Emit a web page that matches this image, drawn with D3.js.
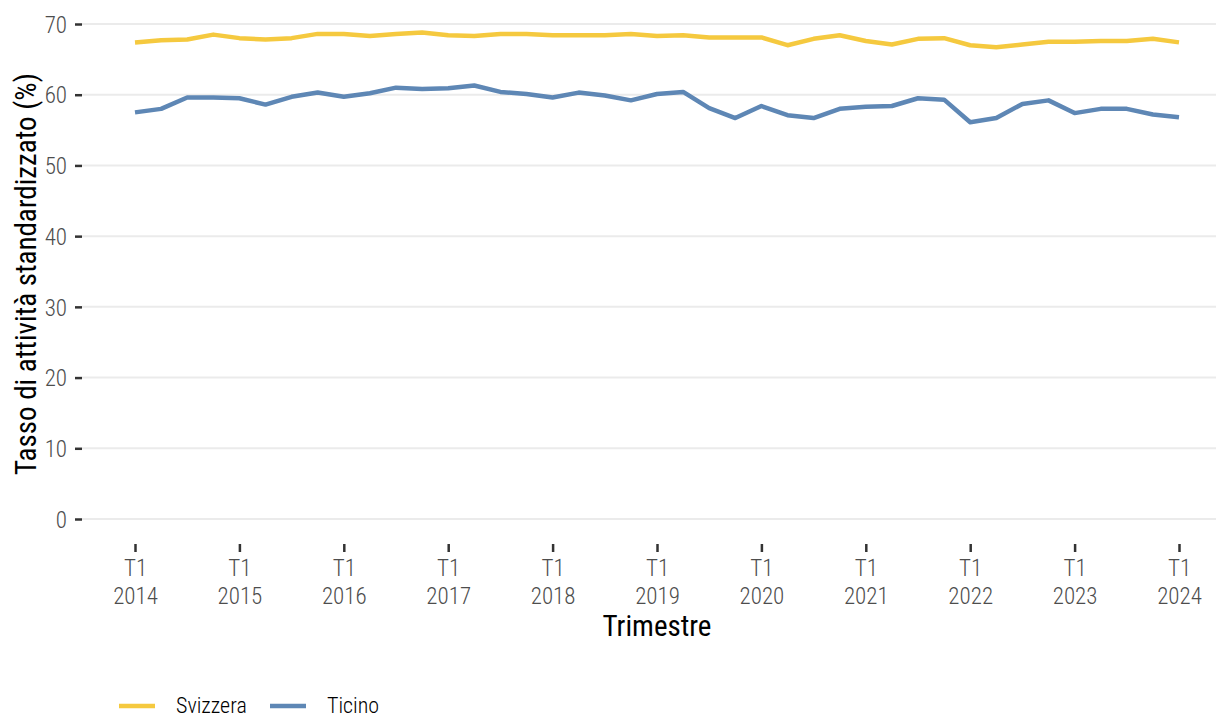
<!DOCTYPE html>
<html>
<head>
<meta charset="utf-8">
<script src="https://cdn.jsdelivr.net/npm/d3@7"></script>
<style>
  body { margin: 0; background: #fff; }
  svg text { font-family: "Roboto", sans-serif; font-stretch: 75%; font-weight: 300; }
  svg text.title { font-weight: 400; }
</style>
</head>
<body>
<div id="container"></div>
<script>
// Quarters from T1 2014 to T1 2024
const years = d3.range(2014, 2025);
const quarters = [];
years.forEach(function(y) {
    for (let q = 1; q <= 4; q++) {
        if (y === 2024 && q > 1) break;
        quarters.push({ year: y, q: q });
    }
});

// Tasso di attività standardizzato (%)
const svizzera = [
    67.4, 67.7, 67.8, 68.5,
    68.0, 67.8, 68.0, 68.6,
    68.6, 68.3, 68.6, 68.8,
    68.4, 68.3, 68.6, 68.6,
    68.4, 68.4, 68.4, 68.6,
    68.3, 68.4, 68.1, 68.1,
    68.1, 67.0, 67.9, 68.4,
    67.6, 67.1, 67.9, 68.0,
    67.0, 66.7, 67.1, 67.5,
    67.5, 67.6, 67.6, 67.9,
    67.4
];
const ticino = [
    57.5, 58.0, 59.6, 59.6,
    59.5, 58.6, 59.7, 60.3,
    59.7, 60.2, 61.0, 60.8,
    60.9, 61.3, 60.4, 60.1,
    59.6, 60.3, 59.9, 59.2,
    60.1, 60.4, 58.1, 56.7,
    58.4, 57.1, 56.7, 58.0,
    58.3, 58.4, 59.5, 59.3,
    56.1, 56.7, 58.7, 59.2,
    57.4, 58.0, 58.0, 57.2,
    56.8
];
const yTicks = [0, 10, 20, 30, 40, 50, 60, 70];

const series = [
    { name: "Svizzera", values: svizzera, color: "#f5c93f" },
    { name: "Ticino", values: ticino, color: "#5e87b5" }
];

const width = 1216, height = 718;
const svg = d3.select("#container").append("svg")
    .attr("width", width)
    .attr("height", height);

// Scales
const x = d3.scaleLinear().domain([0, quarters.length - 1]).range([135, 1179]);
const y = d3.scaleLinear().domain([0, 70]).range([519, 24]);

// Grid lines
svg.append("g")
    .selectAll("line")
    .data(yTicks)
    .enter()
    .append("line")
    .attr("x1", 82)
    .attr("x2", width)
    .attr("y1", d => y(d))
    .attr("y2", d => y(d))
    .attr("stroke", "#ebebeb")
    .attr("stroke-width", 2);

// Y axis
const yAxis = svg.append("g")
    .attr("transform", "translate(82,0)")
    .call(d3.axisLeft(y).tickValues(yTicks).tickSize(7).tickPadding(8));
yAxis.select(".domain").remove();
yAxis.selectAll(".tick line").attr("stroke", "#333").attr("stroke-width", 2.5);
yAxis.selectAll(".tick text")
    .attr("fill", "#4d4d4d")
    .attr("font-size", "23px")
    .attr("dy", "0.36em");

// X axis (yearly ticks at T1)
const xTickIdx = quarters.map((d, i) => i).filter(i => quarters[i].q === 1);
const xAxis = svg.append("g")
    .attr("transform", "translate(0,544)")
    .call(d3.axisBottom(x).tickValues(xTickIdx).tickSize(8).tickFormat(""));
xAxis.select(".domain").remove();
xAxis.selectAll(".tick line").attr("stroke", "#333").attr("stroke-width", 2.5);
xAxis.selectAll(".tick").each(function(i) {
    const t = d3.select(this).append("text")
        .attr("fill", "#4d4d4d")
        .attr("font-size", "23px")
        .attr("text-anchor", "middle");
    t.append("tspan").attr("x", 0).attr("y", 32).text("T" + quarters[i].q);
    t.append("tspan").attr("x", 0).attr("y", 60).text(quarters[i].year);
});

// Axis titles
svg.append("text")
    .attr("class", "title")
    .attr("transform", "translate(36,274) rotate(-90)")
    .attr("text-anchor", "middle")
    .attr("font-size", "29px")
    .attr("fill", "#000")
    .text("Tasso di attività standardizzato (%)");

svg.append("text")
    .attr("class", "title")
    .attr("x", 657)
    .attr("y", 636)
    .attr("text-anchor", "middle")
    .attr("font-size", "29px")
    .attr("fill", "#000")
    .text("Trimestre");

// Lines
const line = d3.line()
    .x((d, i) => x(i))
    .y(d => y(d));

svg.append("g")
    .selectAll("path")
    .data(series)
    .enter()
    .append("path")
    .attr("d", d => line(d.values))
    .attr("fill", "none")
    .attr("stroke", d => d.color)
    .attr("stroke-width", 4.5)
    .attr("stroke-linejoin", "round");

// Legend
const legendX = [119, 270];
const legend = svg.append("g")
    .selectAll("g")
    .data(series)
    .enter()
    .append("g")
    .attr("transform", (d, i) => "translate(" + legendX[i] + ",706)");
legend.append("line")
    .attr("x1", 0).attr("x2", 36)
    .attr("stroke", d => d.color)
    .attr("stroke-width", 4.5);
legend.append("text")
    .attr("x", 57)
    .attr("y", 0)
    .attr("dy", "0.33em")
    .attr("font-size", "22px")
    .attr("fill", "#000")
    .text(d => d.name);
</script>
</body>
</html>
